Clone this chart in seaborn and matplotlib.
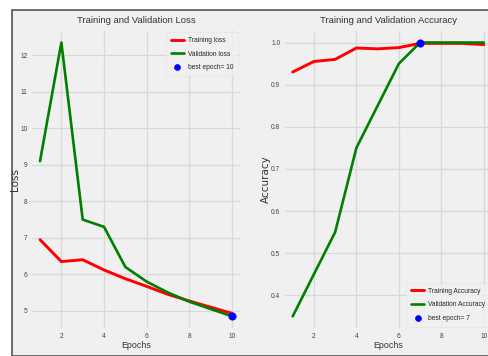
import matplotlib
matplotlib.use("Agg")
import matplotlib.pyplot as plt
import seaborn as sns
import pandas as pd
from matplotlib.patches import Rectangle

# -------------------------
# Data
# -------------------------
epochs = [1, 2, 3, 4, 5, 6, 7, 8, 9, 10]
train_loss = [6.95, 6.35, 6.40, 6.12, 5.88, 5.67, 5.45, 5.27, 5.10, 4.93]
val_loss = [9.10, 12.35, 7.50, 7.30, 6.20, 5.80, 5.50, 5.25, 5.05, 4.85]
train_acc = [0.930, 0.955, 0.960, 0.987, 0.985, 0.988, 0.998, 0.998, 0.998, 0.995]
val_acc = [0.35, 0.45, 0.55, 0.75, 0.85, 0.95, 1.00, 1.00, 1.00, 1.00]
best_loss_epoch = 10
best_acc_epoch = 7

plt.style.use("fivethirtyeight")
sns.set_style("whitegrid", {"axes.facecolor": "#f0f0f0", "grid.color": "#d8d8d8",
                            "axes.edgecolor": "#f0f0f0"})
plt.rcParams["font.family"] = ["Liberation Sans", "DejaVu Sans"]

fig = plt.figure(figsize=(4.89, 3.56), dpi=100, facecolor="white")
fig.patches.append(Rectangle((12 / 489, 0), 1, 1 - 10 / 356, transform=fig.transFigure,
                             facecolor="#f0f0f0", edgecolor="#555555", linewidth=1.2,
                             zorder=-10))

ax1 = fig.add_axes([0.0622, 0.073, 0.432, 0.846])
ax2 = fig.add_axes([0.579, 0.073, 0.43, 0.846])

loss_df = pd.DataFrame({"epoch": epochs, "train": train_loss, "val": val_loss})
acc_df = pd.DataFrame({"epoch": epochs, "train": train_acc, "val": val_acc})

leg_kw = dict(fontsize=4.8, frameon=True, facecolor="#f0f0f0", edgecolor="#e2e2e2",
              handlelength=2.0, handletextpad=0.6, borderpad=0.7, labelspacing=1.0,
              markerscale=0.8, fancybox=False)

# -------------------------
# Loss
# -------------------------
sns.lineplot(data=loss_df, x="epoch", y="train", ax=ax1, color="red", lw=2.1, label="Training loss")
sns.lineplot(data=loss_df, x="epoch", y="val", ax=ax1, color="green", lw=1.9, label="Validation loss")
ax1.scatter(best_loss_epoch, val_loss[best_loss_epoch - 1], s=28, c="blue", zorder=5,
            label="best epoch= %d" % best_loss_epoch)
ax1.set_title("Training and Validation Loss", fontsize=6.8, pad=4, color="#333333")
ax1.set_xlabel("Epochs", fontsize=6.4, labelpad=1, color="#333333")
ax1.set_ylabel("Loss", fontsize=7.5, labelpad=0, family="DejaVu Sans", color="#333333")
ax1.legend(loc="upper right", **leg_kw)

# -------------------------
# Accuracy
# -------------------------
sns.lineplot(data=acc_df, x="epoch", y="train", ax=ax2, color="red", lw=2.1, label="Training Accuracy")
sns.lineplot(data=acc_df, x="epoch", y="val", ax=ax2, color="green", lw=1.9, label="Validation Accuracy")
ax2.scatter(best_acc_epoch, val_acc[best_acc_epoch - 1], s=28, c="blue", zorder=5,
            label="best epoch= %d" % best_acc_epoch)
ax2.set_title("Training and Validation Accuracy", fontsize=6.8, pad=4, color="#333333")
ax2.set_xlabel("Epochs", fontsize=6.4, labelpad=1, color="#333333")
ax2.set_ylabel("Accuracy", fontsize=7.5, labelpad=0, family="DejaVu Sans", color="#333333")
ax2.legend(loc="lower right", **leg_kw)

for ax in (ax1, ax2):
    ax.set_xticks([2, 4, 6, 8, 10])
    ax.tick_params(labelsize=4.8, colors="#444444", pad=2, length=0)
    ax.grid(True, color="#d8d8d8", linewidth=0.9)

fig.savefig("out.png", dpi=100, facecolor=fig.get_facecolor())
